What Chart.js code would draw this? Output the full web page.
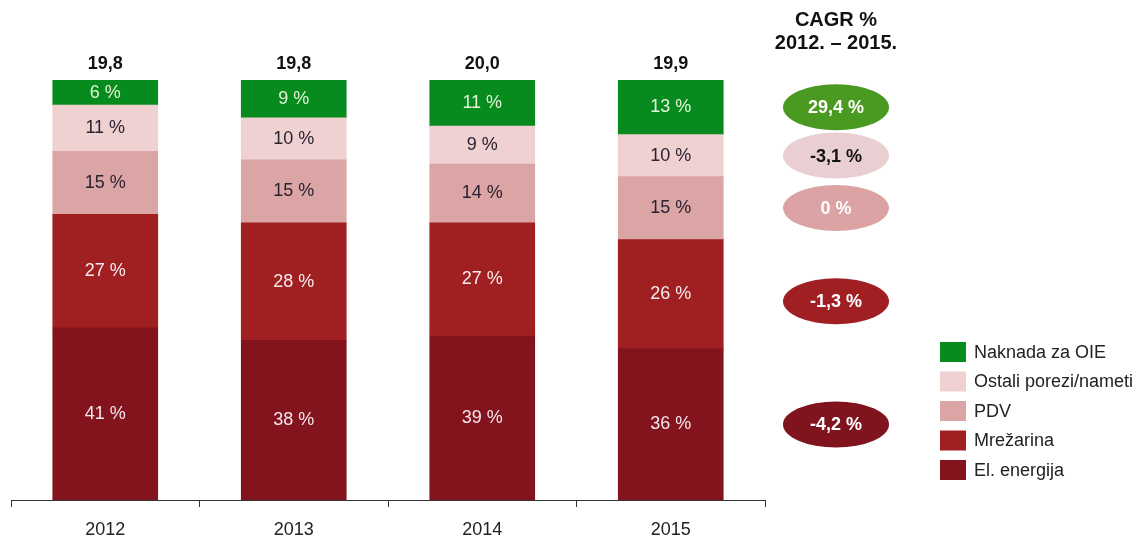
<!DOCTYPE html>
<html>
<head>
<meta charset="utf-8">
<script src="https://cdn.jsdelivr.net/npm/chart.js@4"></script>
<style>
  body { margin: 0; background: #fff; }
  canvas { display: block; }
</style>
</head>
<body>
<canvas id="chart" width="1141" height="545"></canvas>
<script>
// categories and values (share of price, %)
const years = ['2012', '2013', '2014', '2015'];
const totals = ['19,8', '19,8', '20,0', '19,9'];
const elEnergija = [41, 38, 39, 36];
const mrezarina = [27, 28, 27, 26];
const pdv = [15, 15, 14, 15];
const ostali = [11, 10, 9, 10];
const naknada = [6, 9, 11, 13];
// CAGR 2012-2015, same order as the series (bottom to top)
const cagr = ['-4,2 %', '-1,3 %', '0 %', '-3,1 %', '29,4 %'];

const FONT = '"Liberation Sans", Arial, sans-serif';

const series = [
  { label: 'El. energija', data: elEnergija, color: '#83141e', text: '#f3e6ec', pill: '#7f141e', pillText: '#ffffff' },
  { label: 'Mrežarina', data: mrezarina, color: '#a01f21', text: '#f6ecef', pill: '#a01f23', pillText: '#ffffff' },
  { label: 'PDV', data: pdv, color: '#dba5a5', text: '#2a2230', pill: '#dca3a5', pillText: '#ffffff' },
  { label: 'Ostali porezi/nameti', data: ostali, color: '#efd1d2', text: '#2a2230', pill: '#e9cfd1', pillText: '#111111' },
  { label: 'Naknada za OIE', data: naknada, color: '#078a1e', text: '#e6f3d6', pill: '#4a9a22', pillText: '#ffffff' }
];

const overlay = {
  id: 'overlay',
  afterDatasetsDraw(chart) {
    const ctx = chart.ctx;
    ctx.save();
    ctx.textAlign = 'center';
    ctx.textBaseline = 'middle';

    // labels inside the segments
    ctx.font = '18px ' + FONT;
    chart.data.datasets.forEach((ds, i) => {
      chart.getDatasetMeta(i).data.forEach((bar, j) => {
        ctx.fillStyle = series[i].text;
        ctx.fillText(ds.data[j] + ' %', bar.x, (bar.y + bar.base) / 2);
      });
    });

    // totals above bars
    const top = chart.getDatasetMeta(series.length - 1).data;
    ctx.font = 'bold 18px ' + FONT;
    ctx.fillStyle = '#111';
    top.forEach((bar, j) => ctx.fillText(totals[j], bar.x, bar.y - 16));

    // CAGR header
    const cx = 836;
    ctx.font = 'bold 20px ' + FONT;
    ctx.fillText('CAGR %', cx, 20);
    ctx.fillText('2012. – 2015.', cx, 43);

    // CAGR ellipses next to the last bar's segments
    const last = years.length - 1;
    ctx.font = 'bold 18px ' + FONT;
    series.forEach((s, i) => {
      const bar = chart.getDatasetMeta(i).data[last];
      const y = (bar.y + bar.base) / 2 + (i === 1 ? 7 : 0);
      ctx.beginPath();
      ctx.ellipse(cx, y, 53, 23, 0, 0, Math.PI * 2);
      ctx.fillStyle = s.pill;
      ctx.fill();
      ctx.fillStyle = s.pillText;
      ctx.fillText(cagr[i], cx, y + 1);
    });

    // legend (top entry = top of stack)
    ctx.textAlign = 'left';
    ctx.font = '18px ' + FONT;
    const lx = 940, ly = 352, step = 29.5;
    series.slice().reverse().forEach((s, k) => {
      const y = ly + k * step;
      ctx.fillStyle = s.color;
      ctx.fillRect(lx, y - 10, 26, 20);
      ctx.fillStyle = '#222';
      ctx.fillText(s.label, lx + 34, y + 1);
    });
    ctx.restore();
  }
};

new Chart(document.getElementById('chart'), {
  type: 'bar',
  data: {
    labels: years,
    datasets: series.map(s => ({
      label: s.label,
      data: s.data,
      backgroundColor: s.color,
      borderWidth: 0
    }))
  },
  options: {
    responsive: false,
    animation: false,
    layout: { padding: { left: 11, right: 376, top: 80, bottom: 0 } },
    datasets: { bar: { barThickness: 105 } },
    plugins: { legend: { display: false }, tooltip: { enabled: false } },
    scales: {
      x: {
        stacked: true,
        afterFit(scale) { scale.height = 45; },
        grid: { drawOnChartArea: false, drawTicks: true, tickLength: 7, color: '#333' },
        border: { color: '#333', width: 1 },
        ticks: { color: '#222', padding: 12, font: { size: 18, family: FONT } }
      },
      y: { stacked: true, display: false, min: 0, max: 100 }
    }
  },
  plugins: [overlay]
});
</script>
</body>
</html>
